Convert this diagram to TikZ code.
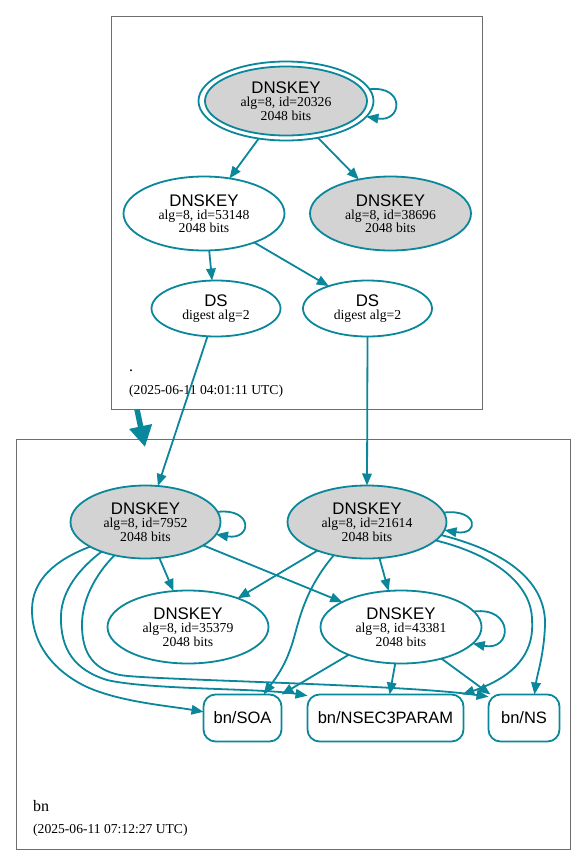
\documentclass[tikz,border=0pt]{standalone}
\usepackage{fontspec}
\setmainfont{Liberation Serif}
\setsansfont{Liberation Sans}
\usetikzlibrary{arrows.meta,shapes.geometric}
\definecolor{edgec}{HTML}{0A879A}
\definecolor{keyfill}{HTML}{D3D3D3}
\definecolor{clus}{HTML}{6E6E6E}
\newcommand{\dnslab}[2]{{\sffamily\fontsize{16.8}{18}\selectfont #1}\\#2}
\tikzset{
  keynode/.style={ellipse, draw=edgec, line width=1.8pt, inner sep=0pt, outer sep=0pt, align=center,
    font=\fontsize{13.7}{13.3}\selectfont},
  rrnode/.style={rectangle, rounded corners=12pt, draw=edgec, line width=1.8pt, inner sep=0pt, outer sep=0pt,
    minimum height=47pt, font=\sffamily\fontsize{16.5}{18}\selectfont},
  clusterbox/.style={rectangle, draw=clus, line width=1pt, inner sep=0pt},
  sigedge/.style={draw=edgec, line width=1.8pt, -{Triangle[length=12pt,width=9.5pt]}},
  delegedge/.style={draw=edgec, line width=5.5pt, -{Triangle[length=21pt,width=22pt]}},
  cluslabel/.style={anchor=base west, inner sep=0pt, font=\fontsize{16}{18}\selectfont},
  clusdate/.style={anchor=base west, inner sep=0pt, font=\fontsize{13.6}{15}\selectfont},
}
\begin{document}
\begin{tikzpicture}[x=1pt, y=-1pt]
\useasboundingbox (0,0) rectangle (587,865);
\fill[white] (0,0) rectangle (587,865);
% clusters
\node[clusterbox, minimum width=371pt, minimum height=393pt] (croot) at (296.5,212.5) {};
\node[clusterbox, minimum width=554pt, minimum height=410pt] (cbn) at (293,644) {};
\node[cluslabel] (lroot) at (129,371) {.};
\node[clusdate] (droot) at (129,394) {(2025-06-11 04:01:11 UTC)};
\node[cluslabel] (lbn) at (33,811) {bn};
\node[clusdate] (dbn) at (33,833) {(2025-06-11 07:12:27 UTC)};
% root zone
\node[keynode, minimum width=175pt, minimum height=79pt] (ksk) at (286,101) {};
\node[keynode, fill=keyfill, minimum width=162pt, minimum height=69pt] (kskin) at (286,101)
  {\dnslab{DNSKEY}{alg=8, id=20326\\2048 bits}};
\node[keynode, minimum width=161pt, minimum height=74pt] (z53148) at (204,213.5)
  {\dnslab{DNSKEY}{alg=8, id=53148\\2048 bits}};
\node[keynode, fill=keyfill, minimum width=161pt, minimum height=74pt] (k38696) at (390.5,213.5)
  {\dnslab{DNSKEY}{alg=8, id=38696\\2048 bits}};
\node[keynode, minimum width=129pt, minimum height=56pt] (dsl) at (216,308.5)
  {\dnslab{DS}{digest alg=2}};
\node[keynode, minimum width=129pt, minimum height=56pt] (dsr) at (367.5,308.5)
  {\dnslab{DS}{digest alg=2}};
% bn zone
\node[keynode, fill=keyfill, minimum width=150pt, minimum height=73pt] (k7952) at (145.5,522)
  {\dnslab{DNSKEY}{alg=8, id=7952\\2048 bits}};
\node[keynode, fill=keyfill, minimum width=159pt, minimum height=73pt] (k21614) at (367,522)
  {\dnslab{DNSKEY}{alg=8, id=21614\\2048 bits}};
\node[keynode, minimum width=161pt, minimum height=73pt] (k35379) at (188,627)
  {\dnslab{DNSKEY}{alg=8, id=35379\\2048 bits}};
\node[keynode, minimum width=161pt, minimum height=73pt] (k43381) at (401,627)
  {\dnslab{DNSKEY}{alg=8, id=43381\\2048 bits}};
\node[rrnode, minimum width=78pt] (soa) at (242.5,718) {bn/SOA};
\node[rrnode, minimum width=156pt] (nsec) at (385.5,718) {bn/NSEC3PARAM};
\node[rrnode, minimum width=71pt] (ns) at (524,718) {bn/NS};
% delegation arrow
\coordinate (dfrom) at (137,409.5);
\coordinate (dto) at (145,447);
\draw[delegedge] (dfrom) -- (dto);
% root edges
\draw[sigedge] (ksk.8) .. controls +(36,-4) and +(36,6) .. (ksk.-11);
\draw[sigedge] (ksk.234) -- (z53148.54.5);
\draw[sigedge] (ksk.311.4) -- (k38696.133.3);
\draw[sigedge] (z53148.-82.6) -- (dsl.98.3);
\draw[sigedge] (z53148.-30) -- (dsr.150.2);
\draw[sigedge] (dsl.253) -- (k7952.71.3);
\draw[sigedge] (dsr.-90) -- (k21614.90);
% bn edges
\draw[sigedge] (k7952.8) .. controls +(36,-4) and +(36,6) .. (k7952.-10);
\draw[sigedge] (k21614.7) .. controls +(35,-4) and +(35,6) .. (k21614.-6);
\draw[sigedge] (k43381.12) .. controls +(40,-5) and +(40,8) .. (k43381.-13);
\draw[sigedge] (k7952.-69.1) -- (k35379.112);
\draw[sigedge] (k7952.-22.3) -- (k43381.157.7);
\draw[sigedge] (k21614.210) -- (k35379.30.1);
\draw[sigedge] (k21614.-71.1) -- (k43381.109.4);
\draw[sigedge] (k43381.208.8) -- (soa.31);
\draw[sigedge] (k43381.261) -- (nsec.80);
\draw[sigedge] (k43381.-38.2) -- (ns.145.5);
% long curves from 7952
\draw[sigedge] (k7952.204.3) .. controls (55,560) and (32,580) .. (32,610)
  .. controls (32,645) and (55,672) .. (87,687)
  .. controls (120,702) and (170,706) .. (soa.171.4);
\draw[sigedge] (k7952.214.3) .. controls (80,568) and (62,590) .. (61,615)
  .. controls (60,650) and (75,670) .. (107,680)
  .. controls (150,690) and (260,688) .. (nsec.164.8);
\draw[sigedge] (k7952.227) .. controls (95,575) and (82,600) .. (82,625)
  .. controls (82,655) and (95,670) .. (120,675)
  .. controls (145,680) and (400,684) .. (ns.149.7);
% curves from 21614
\draw[sigedge] (k21614.225) .. controls (300,595) and (298,630) .. (290,650)
  .. controls (283,670) and (272,683) .. (soa.48);
\draw[sigedge] (k21614.-15) .. controls (495,555) and (532,585) .. (532,620)
  .. controls (535,660) and (505,680) .. (nsec.17);
\draw[sigedge] (k21614.-10) .. controls (520,555) and (546,590) .. (545,625)
  .. controls (544,655) and (537,675) .. (ns.66.3);
\end{tikzpicture}
\end{document}
